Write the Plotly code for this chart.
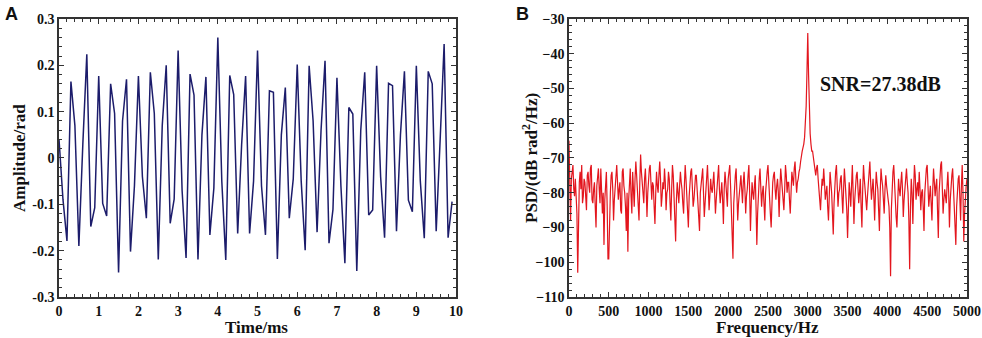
import plotly.graph_objects as go

# ---- Panel A: time-domain signal (0.1 ms sampling) ----
time_step_ms = 0.1
amplitude = [
    0.04, -0.09, -0.179, 0.165, 0.07, -0.19, 0.03, 0.224, -0.148, -0.107,
    0.177, -0.098, -0.125, 0.16, 0.096, -0.247, 0.08, 0.17, -0.202, -0.06,
    0.177, -0.04, -0.13, 0.185, 0.096, -0.219, 0.07, 0.2, -0.141, -0.089,
    0.232, -0.07, -0.216, 0.181, 0.136, -0.219, 0.05, 0.175, -0.166, -0.065,
    0.26, -0.05, -0.22, 0.178, 0.137, -0.163, 0.03, 0.177, -0.163, -0.05,
    0.232, -0.06, -0.166, 0.145, 0.142, -0.218, 0.05, 0.152, -0.13, -0.045,
    0.202, -0.05, -0.199, 0.199, 0.08, -0.16, 0.06, 0.21, -0.184, -0.111,
    0.173, -0.06, -0.227, 0.109, 0.095, -0.244, 0.06, 0.185, -0.123, -0.112,
    0.199, -0.04, -0.172, 0.161, 0.156, -0.158, 0.05, 0.187, -0.091, -0.116,
    0.199, -0.05, -0.173, 0.187, 0.16, -0.158, 0.04, 0.246, -0.172, -0.094,
]
time_ms = [round(i * time_step_ms, 2) for i in range(len(amplitude))]

# ---- Panel B: PSD (10 Hz bins, 0..5000 Hz), one row per 100 Hz ----
freq_step_hz = 10
psd_db = [
    -65, -78, -88, -76, -74, -72, -79, -81, -76, -84,
    -86, -103, -80, -77, -74, -79, -72, -83, -81, -76,
    -77, -80, -85, -75, -74, -78, -80, -73, -72, -82,
    -83, -79, -77, -84, -90, -78, -75, -73, -79, -83,
    -73, -78, -86, -80, -95, -82, -77, -74, -84, -99,
    -99, -81, -80, -75, -74, -79, -88, -82, -78, -76,
    -72, -77, -82, -79, -77, -85, -86, -74, -73, -78,
    -80, -84, -91, -80, -97, -82, -76, -73, -81, -86,
    -74, -79, -84, -76, -71, -75, -79, -82, -88, -77,
    -69, -74, -78, -81, -83, -76, -73, -79, -87, -80,
    -76, -73, -72, -79, -82, -77, -78, -84, -89, -80,
    -74, -78, -80, -75, -71, -76, -84, -81, -77, -79,
    -73, -77, -85, -80, -79, -74, -76, -83, -88, -79,
    -72, -75, -81, -86, -94, -82, -77, -80, -83, -78,
    -74, -77, -79, -83, -86, -78, -72, -76, -80, -85,
    -90, -81, -76, -74, -73, -79, -84, -82, -78, -75,
    -75, -79, -82, -86, -91, -80, -77, -74, -73, -80,
    -87, -83, -79, -75, -72, -78, -85, -81, -76, -79,
    -80, -77, -74, -80, -86, -82, -78, -75, -72, -79,
    -83, -80, -77, -82, -89, -79, -74, -77, -81, -84,
    -76, -74, -72, -78, -84, -92, -99, -83, -78, -75,
    -73, -80, -88, -83, -80, -76, -75, -79, -83, -77,
    -74, -79, -86, -81, -79, -75, -72, -80, -91, -83,
    -77, -80, -82, -78, -75, -84, -95, -86, -79, -76,
    -73, -77, -84, -80, -78, -83, -88, -80, -76, -74,
    -72, -78, -81, -86, -90, -82, -77, -75, -74, -79,
    -82, -78, -76, -80, -87, -79, -73, -76, -79, -83,
    -85, -79, -72, -75, -80, -77, -77, -82, -86, -80,
    -74, -76, -78, -73, -71, -76, -80, -77, -76, -74,
    -73, -71, -69, -68, -67, -66, -64, -60, -55, -45,
    -34, -46, -57, -63, -66, -68, -68, -70, -71, -73,
    -75, -73, -72, -76, -79, -82, -85, -80, -76, -78,
    -73, -77, -82, -80, -78, -84, -88, -81, -74, -77,
    -80, -86, -92, -83, -77, -74, -72, -78, -84, -80,
    -79, -76, -75, -81, -86, -79, -73, -77, -81, -85,
    -93, -83, -77, -80, -84, -78, -72, -80, -89, -82,
    -78, -75, -74, -79, -83, -80, -76, -84, -90, -79,
    -72, -76, -80, -83, -85, -81, -77, -74, -71, -77,
    -82, -79, -76, -81, -88, -80, -74, -77, -79, -85,
    -91, -80, -73, -76, -78, -82, -86, -79, -75, -78,
    -80, -82, -84, -90, -104, -85, -77, -74, -72, -78,
    -83, -87, -90, -80, -76, -79, -81, -77, -74, -79,
    -87, -82, -78, -74, -73, -77, -80, -88, -102, -84,
    -76, -80, -89, -79, -72, -75, -82, -79, -77, -81,
    -74, -79, -85, -80, -79, -84, -91, -80, -76, -73,
    -72, -78, -84, -81, -78, -83, -88, -79, -73, -77,
    -81, -78, -76, -85, -93, -80, -75, -72, -71, -79,
    -86, -82, -79, -81, -83, -78, -74, -80, -90, -82,
    -77, -75, -73, -79, -85, -90, -95, -84, -79, -76,
    -75, -81, -88, -78, -72, -80, -94, -86, -80, -78,
    -76,
]
freq_hz = [i * freq_step_hz for i in range(len(psd_db))]

snr_text = "SNR=27.38dB"
snr_pos = (3910, -48.7)

SERIF = "Liberation Serif"
SANS = "Liberation Sans"
INK = "#111111"

fig = go.Figure()
fig.add_trace(go.Scatter(x=time_ms, y=amplitude, mode="lines",
                         line=dict(color="#1c1c6b", width=1.5),
                         xaxis="x", yaxis="y", showlegend=False))
fig.add_trace(go.Scatter(x=freq_hz, y=psd_db, mode="lines",
                         line=dict(color="#e3161e", width=1.2),
                         xaxis="x2", yaxis="y2", showlegend=False))

def axis(**kw):
    d = dict(
        showline=True, linecolor="#333333", linewidth=1.5, mirror="ticks",
        ticks="inside", ticklen=5, tickwidth=1.2, tickcolor="#333333",
        showgrid=False, zeroline=False, automargin=False,
        tickfont=dict(family=SERIF, size=14, color=INK, weight="bold"),
    )
    d.update(kw)
    return d

fig.update_layout(
    width=982, height=338,
    margin=dict(l=0, r=0, t=0, b=0, autoexpand=False),
    font=dict(family=SERIF, color=INK),
    paper_bgcolor="white", plot_bgcolor="white",
    xaxis=axis(domain=[0.0601, 0.4644], range=[0, 10], dtick=1, anchor="y",
               minor=dict(ticks="inside", ticklen=3, dtick=0.2, tickcolor="#333333")),
    yaxis=axis(domain=[0.1213, 0.9438], range=[-0.3, 0.3], dtick=0.1, anchor="x",
               tickvals=[-0.3, -0.2, -0.1, 0, 0.1, 0.2, 0.3],
               ticktext=["-0.3", "-0.2", "-0.1", "0", "0.1", "0.2", "0.3"],
               minor=dict(ticks="inside", ticklen=3, dtick=0.02, tickcolor="#333333")),
    xaxis2=axis(domain=[0.5794, 0.9847], range=[0, 5000], dtick=500, anchor="y2",
                minor=dict(ticks="inside", ticklen=3, dtick=100, tickcolor="#333333")),
    yaxis2=axis(domain=[0.1213, 0.9438], range=[-110, -30], dtick=10, anchor="x2",
                minor=dict(ticks="inside", ticklen=3, dtick=2, tickcolor="#333333")),
)

title_font = dict(family=SERIF, size=17, color=INK)
titles = [
    ("<b>Time/ms</b>", 0.2617, 0.03, 0),
    ("<b>Amplitude/rad</b>", 0.0193, 0.5325, -90),
    ("<b>Frequency/Hz</b>", 0.782, 0.03, 0),
    ("<b>PSD/(dB rad<sup>2</sup>/Hz)</b>", 0.5397, 0.5325, -90),
]
for text, x, y, ang in titles:
    fig.add_annotation(x=x, y=y, xref="paper", yref="paper", text=text,
                       showarrow=False, textangle=ang, xanchor="center", yanchor="middle",
                       font=title_font)

fig.add_annotation(x=snr_pos[0], y=snr_pos[1], xref="x2", yref="y2",
                   text="<b>" + snr_text + "</b>", showarrow=False,
                   font=dict(family=SERIF, size=20, color=INK))

fig.add_annotation(x=0.003, y=0.995, xref="paper", yref="paper", text="<b>A</b>",
                   showarrow=False, xanchor="left", yanchor="top",
                   font=dict(family=SANS, size=18, color=INK))
fig.add_annotation(x=0.523, y=0.995, xref="paper", yref="paper", text="<b>B</b>",
                   showarrow=False, xanchor="left", yanchor="top",
                   font=dict(family=SANS, size=18, color=INK))

fig.write_html("out.html", config={"displayModeBar": False},
               post_script="document.body.style.margin='0px';")
